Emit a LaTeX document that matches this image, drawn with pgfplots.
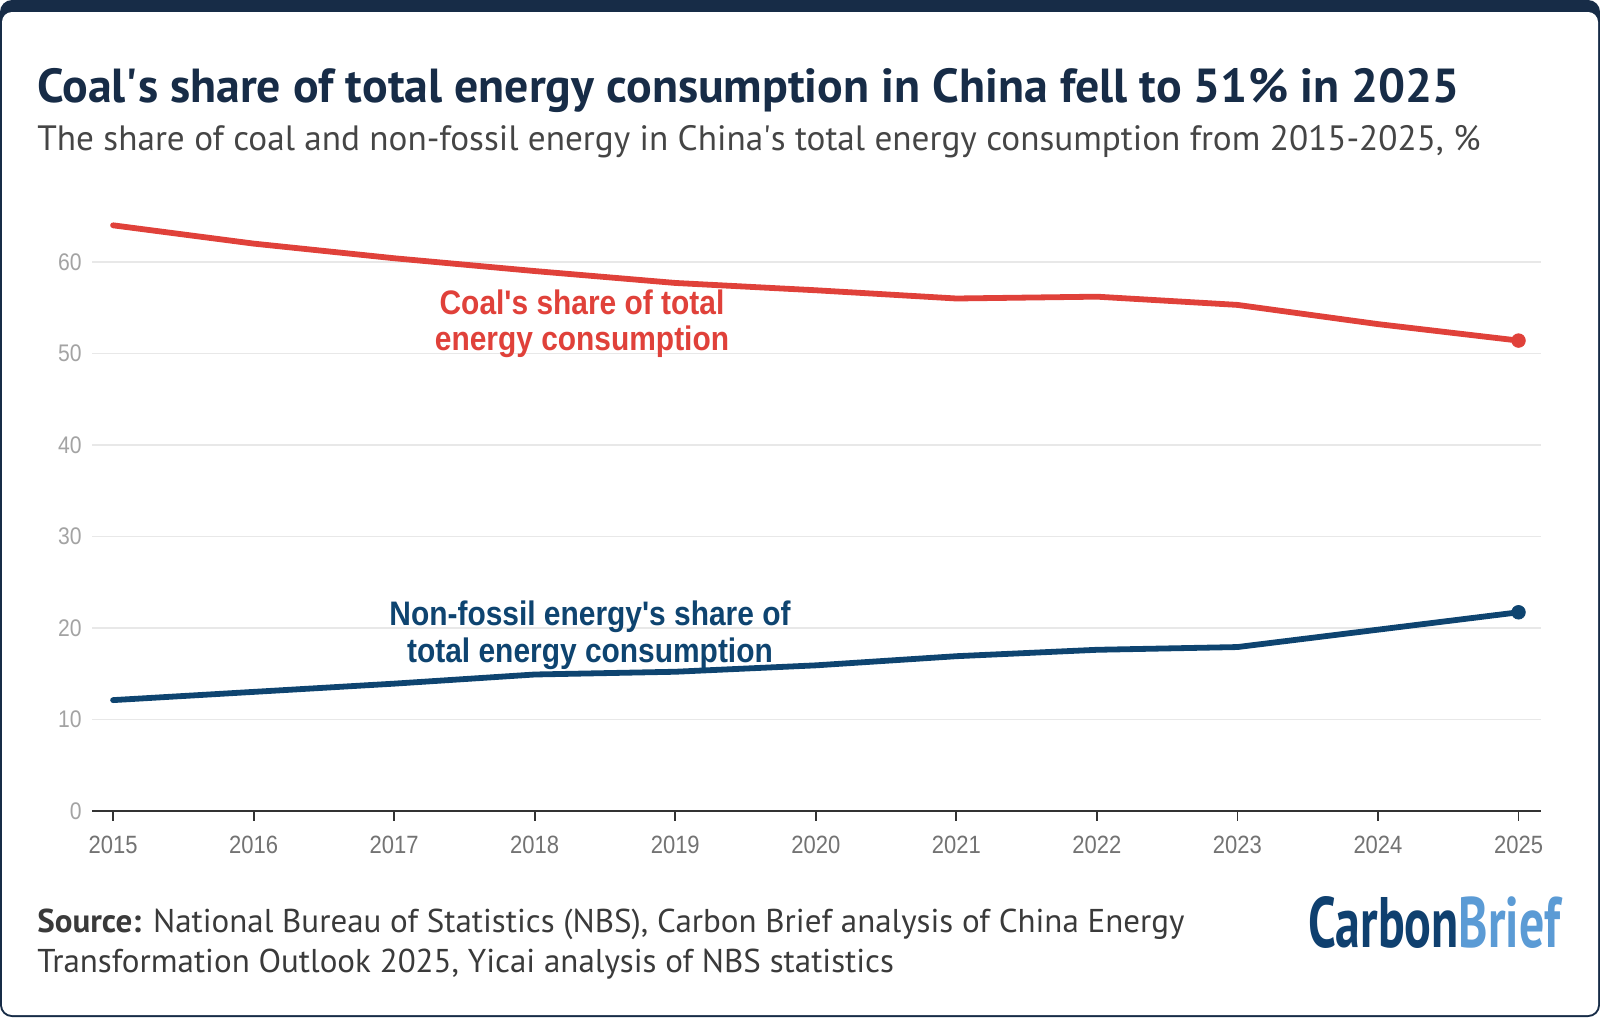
\documentclass[border=0pt]{standalone}
\usepackage{pgfplots}
\pgfplotsset{compat=1.18}
\usepackage{fontspec}
\setmainfont{PT Sans}
\newfontfamily\condfont[FakeStretch=0.88]{Liberation Sans}
\newfontfamily\logofont[FakeStretch=0.8]{PT Sans}
\definecolor{navy}{HTML}{172C47}
\definecolor{coalred}{HTML}{E0413A}
\definecolor{nfblue}{HTML}{0E4470}
\definecolor{subgray}{HTML}{454545}
\definecolor{srcgray}{HTML}{3A3A3A}
\definecolor{ytgray}{HTML}{A3A3A3}
\definecolor{xtgray}{HTML}{737373}
\definecolor{gridgray}{HTML}{E8E8E8}
\definecolor{axisdark}{HTML}{333333}
\definecolor{cbdark}{HTML}{0F406F}
\definecolor{cblight}{HTML}{5B9BD5}

\pgfplotstableread{
year coal
2015 64.0
2016 62.0
2017 60.4
2018 59.0
2019 57.7
2020 56.9
2021 56.0
2022 56.2
2023 55.3
2024 53.2
2025 51.4
}\coaldata
\pgfplotstableread{
year nonfossil
2015 12.1
2016 13.0
2017 13.9
2018 14.9
2019 15.2
2020 15.9
2021 16.9
2022 17.6
2023 17.9
2024 19.8
2025 21.7
}\nfdata

\begin{document}
\begin{tikzpicture}
% frame
\fill[navy, rounded corners=6pt] (0,0) rectangle (800pt,-508.5pt);
\fill[white, rounded corners=5pt] (1pt,-6pt) rectangle (799pt,-507.5pt);

\begin{axis}[
  at={(46pt,-405.4pt)}, anchor=south west,
  scale only axis, width=724.5pt, height=301.9pt,
  xmin=2014.85, xmax=2025.16, ymin=0, ymax=66,
  axis lines*=left,
  axis line style={-},
  y axis line style={draw=none},
  x axis line style={color=axisdark, line width=1.1pt},
  tick align=outside,
  major tick length=5pt,
  xtick={2015,2016,...,2025},
  xticklabels={2015,2016,2017,2018,2019,2020,2021,2022,2023,2024,2025},
  ytick={0,10,20,30,40,50,60},
  yticklabels={0,10,20,30,40,50,60},
  xtick style={draw=axisdark, line width=0.9pt},
  ytick style={draw=none},
  ymajorgrids,
  grid style={color=gridgray, line width=0.8pt},
  xticklabel style={font=\condfont\fontsize{12.5pt}{14pt}\selectfont, text=xtgray, anchor=north, inner sep=0pt, yshift=-7.5pt},
  yticklabel style={font=\condfont\fontsize{12pt}{14pt}\selectfont, text=ytgray, anchor=east, inner sep=0pt},
  clip=false,
]
\addplot[coalred, line width=2.9pt, line join=round, line cap=round] table[x=year, y=coal] {\coaldata};
\addplot[nfblue, line width=2.9pt, line join=round, line cap=round] table[x=year, y=nonfossil] {\nfdata};
\addplot[coalred, only marks, mark=*, mark size=3.4pt] coordinates {(2025,51.4)};
\addplot[nfblue, only marks, mark=*, mark size=3.4pt] coordinates {(2025,21.7)};
\end{axis}

% labels
\begin{scope}[every node/.style={anchor=base, inner sep=0pt, font=\condfont\bfseries\fontsize{17pt}{19pt}\selectfont}]
\node[text=coalred] at (291pt,-157pt) {Coal's share of total};
\node[text=coalred] at (291pt,-175pt) {energy consumption};
\node[text=nfblue] at (295pt,-312.5pt) {Non-fossil energy's share of};
\node[text=nfblue] at (295pt,-331pt) {total energy consumption};
\end{scope}

% titles
\node[anchor=base west, inner sep=0pt, text=navy, font=\bfseries\fontsize{23.9pt}{28pt}\selectfont] at (18.5pt,-51pt) {Coal\textquotesingle s share of total energy consumption in China fell to 51\% in 2025};
\node[anchor=base west, inner sep=0pt, text=subgray, font=\fontsize{17.6pt}{20pt}\selectfont] at (18.5pt,-75pt) {The share of coal and non-fossil energy in China\textquotesingle s total energy consumption from 2015-2025, \%};

% source
\node[anchor=base west, inner sep=0pt, text=srcgray, font=\fontsize{16.5pt}{20pt}\selectfont] at (18.5pt,-466pt) {\textbf{Source:} National Bureau of Statistics (NBS), Carbon Brief analysis of China Energy};
\node[anchor=base west, inner sep=0pt, text=srcgray, font=\fontsize{16.5pt}{20pt}\selectfont] at (18.5pt,-486pt) {Transformation Outlook 2025, Yicai analysis of NBS statistics};

% logo
\node[anchor=south east, inner sep=0pt] at (780.5pt,-474.5pt) {\resizebox{126pt}{25.5pt}{\logofont\bfseries\textcolor{cbdark}{Carbon}\textcolor{cblight}{Brief}}};
\end{tikzpicture}
\end{document}
